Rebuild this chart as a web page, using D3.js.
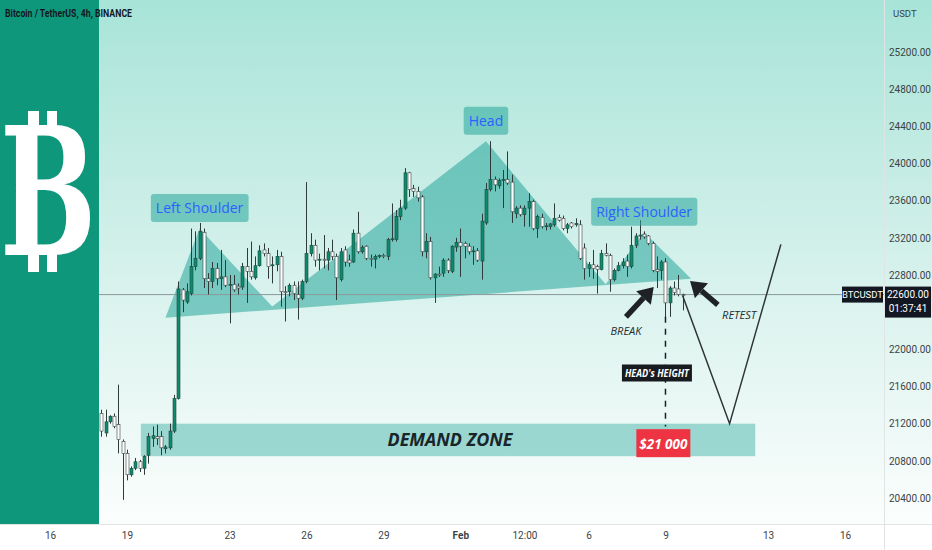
<!DOCTYPE html>
<html><head><meta charset="utf-8">
<script src="https://cdn.jsdelivr.net/npm/d3@7"></script>
<style>html,body{margin:0;padding:0;background:#fff;}svg{display:block;}</style>
</head><body>
<svg id="chart" width="932" height="550"></svg>
<script>
// ---------- data ----------
const firstCandle = "2023-01-18 00:00";
const ohlc = [
[21310,21350,21060,21120],[21100,21350,21060,21220],[21220,21290,21200,21280],[21280,21310,21150,21170],
[21190,21620,20880,21030],[21010,21030,20380,20880],[20880,20920,20590,20650],[20650,20740,20630,20720],
[20720,20830,20700,20790],[20790,20810,20680,20720],[20720,20860,20650,20850],[20860,21100,20770,21060],
[21040,21170,20950,21070],[21060,21190,20970,21040],[21060,21120,20860,20940],[20930,20970,20880,20950],
[20940,21200,20920,21120],[21120,21510,21100,21470],[21470,22730,21460,22650],[22640,22660,22400,22530],
[22510,22710,22490,22620],[22600,23300,22580,22890],[22890,23270,22850,22980],[22980,23360,22960,23270],
[23260,23300,22660,22760],[22760,22820,22590,22730],[22730,22940,22660,22870],[22870,22930,22690,22760],
[22760,23070,22640,22780],[22780,22960,22670,22690],[22690,22800,22280,22700],[22700,22800,22620,22640],
[22680,22710,22590,22660],[22670,22930,22640,22890],[22890,23090,22500,22840],[22840,23160,22750,22780],
[22770,23000,22750,22900],[22900,23120,22890,23060],[23070,23140,23000,23030],[23030,23090,22760,22890],
[22900,23000,22710,22910],[22910,23070,22840,23000],[23000,23050,22460,22620],[22620,22680,22300,22610],
[22620,22710,22570,22690],[22690,22730,22530,22600],[22590,22730,22320,22550],[22550,22750,22530,22730],
[22730,23800,22710,23030],[23030,23250,23000,23120],[23120,23180,22890,22960],[22960,23030,22850,22970],
[22970,23230,22870,22960],[22960,23090,22850,23050],[23050,23180,22960,23000],[23000,23030,22530,22770],
[22750,23090,22730,23050],[23070,23110,22890,22940],[22960,23020,22890,22930],[22940,23290,22930,23250],
[23250,23480,23030,23050],[23050,23120,23030,23100],[23110,23120,22960,22980],[22980,23020,22890,22970],
[22970,23020,22870,23000],[23000,23020,22980,23010],[23010,23030,22980,23000],[23000,23200,22960,23180],
[23180,23570,23160,23190],[23180,23500,23160,23430],[23430,23610,23390,23520],[23520,23950,23500,23900],
[23900,23910,23640,23720],[23730,23770,23640,23700],[23700,23750,23590,23630],[23640,23660,23000,23050],
[23050,23250,22980,23160],[23160,23210,22750,22770],[22770,22820,22500,22810],[22810,22890,22780,22800],
[22820,22980,22780,22960],[22960,22980,22820,22850],[22840,23120,22820,23110],[23100,23200,23050,23150],
[23150,23300,22780,23110],[23140,23160,22980,23110],[23110,23140,23020,23050],[23050,23110,22910,23060],
[23060,23090,22940,22960],[22950,23460,22750,23380],[23360,23790,23340,23720],[23720,24240,23700,23830],
[23830,23860,23700,23770],[23760,23840,23730,23820],[23820,23930,23520,23830],[23830,24130,23770,23790],
[23800,23880,23360,23480],[23460,23540,23410,23520],[23520,23550,23430,23450],[23450,23550,23320,23520],
[23520,23680,23320,23590],[23590,23610,23280,23300],[23300,23450,23200,23430],[23420,23460,23300,23320],
[23320,23360,23280,23330],[23320,23360,23290,23350],[23340,23570,23320,23410],[23420,23450,23375,23390],
[23410,23440,23280,23300],[23300,23360,23250,23340],[23360,23370,23300,23320],[23340,23410,23320,23355],
[23340,23390,22960,22980],[23090,23140,22750,22870],[22870,22940,22780,22910],[22910,23070,22760,22870],
[22890,22910,22600,22860],[22860,23070,22850,23030],[23030,23140,23000,23010],[23010,23030,22620,22750],
[22750,22870,22730,22850],[22850,22940,22840,22900],[22900,22980,22870,22940],[22950,23020,22780,22890],
[22890,23320,22870,23120],[23120,23250,23090,23220],[23220,23390,23180,23230],[23240,23270,23190,23210],
[23220,23230,23120,23140],[23140,23160,22830,22850],[22860,23000,22660,22840],[22850,22960,22750,22940],
[22940,22980,22330,22500],[22500,22680,22350,22660],[22660,22730,22580,22610],[22650,22800,22570,22590],
[22590,22600,22420,22580]
];
const priceTicks = [20400,20800,21200,21600,22000,22800,23200,23600,24000,24400,24800,25200];
const timeTicks = ["2023-01-16 00:00","2023-01-19 00:00","2023-01-23 00:00","2023-01-26 00:00","2023-01-29 00:00","2023-02-01 00:00","2023-02-03 12:00","2023-02-06 00:00","2023-02-09 00:00","2023-02-13 00:00","2023-02-16 00:00"];
const timeTickLabels = ["16","19","23","26","29","Feb","12:00","6","9","13","16"];
const lastPrice = 22600;
const countdown = "01:37:41";
// head & shoulders outline: [time, price]
const patternPts = [["2023-01-20 12:00",22340],["2023-01-21 20:00",23300],["2023-01-24 16:00",22460],
  ["2023-02-02 00:00",24240],["2023-02-06 16:00",22700],["2023-02-08 04:00",23260],["2023-02-10 00:00",22760]];
const patternLabels = [["Left Shoulder","2023-01-21 20:00",23520],["Head","2023-02-02 00:00",24460],["Right Shoulder","2023-02-08 04:00",23480]];
const demandZone = ["2023-01-19 13:00","2023-02-12 12:00",21200,20850];
const projection = [["2023-02-09 16:00",22580],["2023-02-11 12:00",21200],["2023-02-13 12:00",23130]];
const arrows = [[["2023-02-07 11:00",22350],["2023-02-08 13:00",22671]],[["2023-02-11 01:00",22478],["2023-02-09 23:00",22736]]];
const arrowTexts = [["BREAK","2023-02-07 11:00",22150],["RETEST","2023-02-11 21:00",22330]];
const headHeightLine = ["2023-02-09 00:00",22350,21170];
const headHeightLabel = ["HEAD's HEIGHT","2023-02-08 16:00",21740];
const targetLabel = ["$21 000","2023-02-08 22:00",20990];

// ---------- setup ----------
const svg = d3.select("#chart");
const W=932,H=550,plotR=884,plotB=524,bandW=99;
const pt = d3.utcParse("%Y-%m-%d %H:%M");
const x = d3.scaleUtc().domain([pt("2023-01-16 00:00"),pt("2023-02-16 00:00")]).range([50,845]);
const y = d3.scaleLinear().domain([20400,25200]).range([498,52]);
const t0 = pt(firstCandle);
const candleTime = i => new Date(t0.getTime()+i*4*3600*1000);

const defs = svg.append("defs");
const grad = defs.append("linearGradient").attr("id","bg").attr("x1",0).attr("y1",0).attr("x2",0).attr("y2",1);
grad.append("stop").attr("offset","0%").attr("stop-color","#a8e4d8");
grad.append("stop").attr("offset","55%").attr("stop-color","#d9f2ed");
grad.append("stop").attr("offset","100%").attr("stop-color","#fbfefd");

svg.append("rect").attr("width",W).attr("height",H).attr("fill","#ffffff");
svg.append("rect").attr("width",W).attr("height",plotB).attr("fill","url(#bg)");

// pattern
const polyPts = patternPts.map(d=>[x(pt(d[0])),y(d[1])]);
svg.append("polygon").attr("points",polyPts.map(p=>p.join(",")).join(" "))
  .attr("fill","#26a69a").attr("fill-opacity",0.55);

// demand zone
svg.append("rect").attr("x",x(pt(demandZone[0]))).attr("y",y(demandZone[2]))
  .attr("width",x(pt(demandZone[1]))-x(pt(demandZone[0]))).attr("height",y(demandZone[3])-y(demandZone[2]))
  .attr("fill","#26a69a").attr("fill-opacity",0.42);
svg.append("text").attr("x",(x(pt(demandZone[0]))+x(pt(demandZone[1])))/2+2).attr("y",(y(demandZone[2])+y(demandZone[3]))/2+6.5)
  .attr("text-anchor","middle").attr("font-family","'Open Sans',sans-serif").attr("font-weight","bold").attr("font-style","italic")
  .attr("font-size",18).attr("textLength",125).attr("lengthAdjust","spacingAndGlyphs").attr("fill","#18262a").text("DEMAND ZONE");

// price line
svg.append("line").attr("x1",bandW).attr("x2",plotR).attr("y1",y(lastPrice)+1).attr("y2",y(lastPrice)+1)
  .attr("stroke","#8a9a9a").attr("stroke-width",1);

// candles
const cg = svg.append("g");
ohlc.forEach((c,i)=>{
  const cx = Math.round(x(candleTime(i)))+0.5;
  const up = c[3]>=c[0];
  cg.append("line").attr("x1",cx).attr("x2",cx).attr("y1",y(c[1])).attr("y2",y(c[2])).attr("stroke","#2f3a3a").attr("stroke-width",1);
  const top = y(Math.max(c[0],c[3])), bot = y(Math.min(c[0],c[3]));
  cg.append("rect").attr("x",cx-1.5).attr("y",top).attr("width",3).attr("height",Math.max(1,bot-top))
    .attr("fill",up?"#0e8a6c":"#ffffff").attr("stroke",up?"#1d4a40":"#3a4040").attr("stroke-width",0.6);
});

// projection
svg.append("path").attr("d",d3.line()(projection.map(d=>[x(pt(d[0])),y(d[1])])))
  .attr("fill","none").attr("stroke","#2e3336").attr("stroke-width",1.5);

// head height dashed line
svg.append("line").attr("x1",x(pt(headHeightLine[0]))).attr("x2",x(pt(headHeightLine[0])))
  .attr("y1",y(headHeightLine[1])).attr("y2",y(headHeightLine[2]))
  .attr("stroke","#1b1f24").attr("stroke-width",1.5).attr("stroke-dasharray","6,6");

// arrows
arrows.forEach(a=>{
  const x1=x(pt(a[0][0])),y1=y(a[0][1]),x2=x(pt(a[1][0])),y2=y(a[1][1]);
  const ang=Math.atan2(y2-y1,x2-x1), hl=15, hw=10;
  const bx=x2-hl*Math.cos(ang), by=y2-hl*Math.sin(ang);
  svg.append("line").attr("x1",x1).attr("y1",y1).attr("x2",bx).attr("y2",by).attr("stroke","#1e2226").attr("stroke-width",5.5);
  const px=-Math.sin(ang)*hw, py=Math.cos(ang)*hw;
  svg.append("polygon").attr("points",[[x2,y2],[bx+px,by+py],[bx-px,by-py]].map(p=>p.join(",")).join(" ")).attr("fill","#1e2226");
});
arrowTexts.forEach(t=>{
  svg.append("text").attr("x",x(pt(t[1]))).attr("y",y(t[2])).attr("text-anchor","middle")
    .attr("font-family","'Open Sans',sans-serif").attr("font-style","italic").attr("font-size",11).attr("fill","#262b30").text(t[0]);
});

// head height label
{
  const cx=x(pt(headHeightLabel[1])), cy=y(headHeightLabel[2]);
  svg.append("rect").attr("x",cx-35).attr("y",cy-9).attr("width",70).attr("height",17).attr("fill","#171b20");
  svg.append("text").attr("x",cx).attr("y",cy+3.5).attr("text-anchor","middle").attr("font-family","'Open Sans',sans-serif")
    .attr("font-weight","bold").attr("font-style","italic").attr("font-size",10.5).attr("textLength",64).attr("lengthAdjust","spacingAndGlyphs")
    .attr("fill","#fff").text(headHeightLabel[0]);
}
{
  const cx=x(pt(targetLabel[1])), cy=y(targetLabel[2]);
  svg.append("rect").attr("x",cx-27).attr("y",cy-14).attr("width",54).attr("height",28).attr("fill","#ee3342");
  svg.append("text").attr("x",cx).attr("y",cy+5.5).attr("text-anchor","middle").attr("font-family","'Open Sans',sans-serif")
    .attr("font-weight","bold").attr("font-style","italic").attr("font-size",15).attr("textLength",48).attr("lengthAdjust","spacingAndGlyphs")
    .attr("fill","#fff").text(targetLabel[0]);
}

// pattern labels
patternLabels.forEach(l=>{
  const cx=x(pt(l[1])), cy=y(l[2]);
  const t=svg.append("text").attr("x",cx).attr("y",cy+5).attr("text-anchor","middle").attr("font-family","'Open Sans',sans-serif")
    .attr("font-size",14).attr("fill","#2962ff").text(l[0]);
  const bb=t.node().getBBox();
  svg.insert("rect","text:last-of-type").attr("x",bb.x-5).attr("y",cy-14).attr("width",bb.width+10).attr("height",28).attr("rx",3)
    .attr("fill","#26a69a").attr("fill-opacity",0.55);
  t.raise();
});

// left band with bitcoin symbol
svg.append("rect").attr("x",0).attr("y",0).attr("width",bandW).attr("height",plotB).attr("fill","#0f977c");
[[28,11],[47,10]].forEach(b=>{
  svg.append("rect").attr("x",b[0]).attr("y",111).attr("width",b[1]).attr("height",18).attr("fill","#fff");
  svg.append("rect").attr("x",b[0]).attr("y",250).attr("width",b[1]).attr("height",22).attr("fill","#fff");
});
svg.append("text").attr("transform","translate(0,255) scale(0.64,1)").attr("font-family","'DejaVu Serif',serif")
  .attr("font-weight","bold").attr("font-size",178).attr("fill","#fff").text("B");

// separators
svg.append("line").attr("x1",0).attr("x2",W).attr("y1",plotB+0.5).attr("y2",plotB+0.5).attr("stroke","#dfe5e4");
svg.append("line").attr("x1",plotR+0.5).attr("x2",plotR+0.5).attr("y1",0).attr("y2",H).attr("stroke","#dfe5e4");

// axes
const yAxis = d3.axisRight(y).tickValues(priceTicks).tickFormat(d=>d.toFixed(2)).tickSize(0).tickPadding(5);
const ya = svg.append("g").attr("transform",`translate(${plotR},0)`).call(yAxis);
ya.select(".domain").remove();
ya.selectAll("text").attr("font-family","Roboto,sans-serif").attr("font-size",10).attr("fill","#3b4345");

const xAxis = d3.axisBottom(x).tickValues(timeTicks.map(pt)).tickFormat((d,i)=>timeTickLabels[i]).tickSize(0).tickPadding(8);
const xa = svg.append("g").attr("transform",`translate(0,${plotB})`).call(xAxis);
xa.select(".domain").remove();
xa.selectAll("text").attr("font-family","Roboto,sans-serif").attr("font-size",10).attr("fill","#3b4345")
  .attr("font-weight",(d,i)=>timeTickLabels[i]==="Feb"?"bold":"normal");

// price labels
svg.append("rect").attr("x",842).attr("y",y(lastPrice)-7).attr("width",41).attr("height",16).attr("fill","#131722");
svg.append("text").attr("x",862.5).attr("y",y(lastPrice)+4.5).attr("text-anchor","middle").attr("font-family","Roboto,sans-serif")
  .attr("font-size",9.5).attr("fill","#fff").text("BTCUSDT");
svg.append("rect").attr("x",885).attr("y",y(lastPrice)-7).attr("width",46).attr("height",31).attr("fill","#131722");
svg.append("text").attr("x",908).attr("y",y(lastPrice)+4.5).attr("text-anchor","middle").attr("font-family","Roboto,sans-serif")
  .attr("font-size",10).attr("fill","#fff").text(lastPrice.toFixed(2));
svg.append("text").attr("x",908).attr("y",y(lastPrice)+18).attr("text-anchor","middle").attr("font-family","Roboto,sans-serif")
  .attr("font-size",10).attr("fill","#fff").text(countdown);

// titles
svg.append("text").attr("x",5).attr("y",17).attr("font-family","Roboto,sans-serif").attr("font-weight",700)
  .attr("font-size",10.5).attr("textLength",127).attr("lengthAdjust","spacingAndGlyphs").attr("fill","#131722").text("Bitcoin / TetherUS, 4h, BINANCE");
svg.append("text").attr("x",893).attr("y",17).attr("font-family","Roboto,sans-serif").attr("font-size",9.5).attr("fill","#3b4345").text("USDT");
</script>
</body></html>
